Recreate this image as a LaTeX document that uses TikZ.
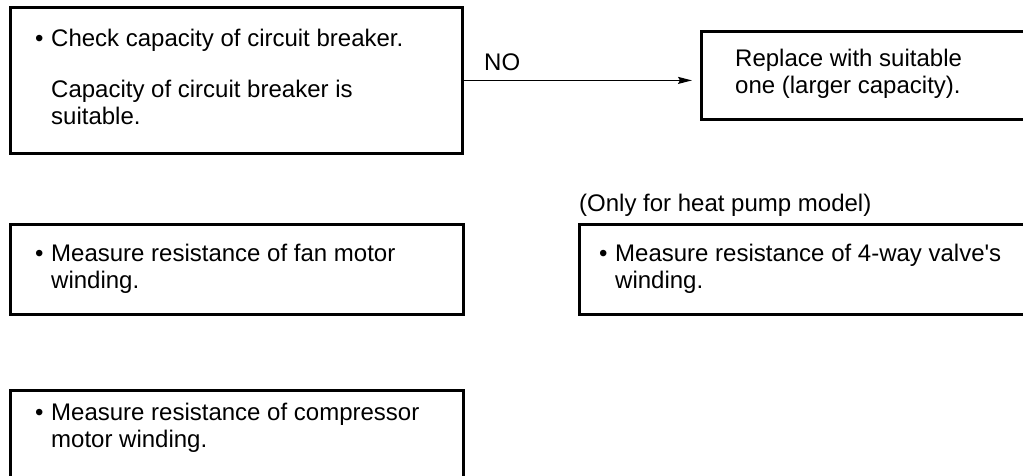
\documentclass[tikz,border=0pt]{standalone}
\usepackage{fontspec}
\setmainfont{Liberation Sans}
\usetikzlibrary{arrows.meta}
\begin{document}
\begin{tikzpicture}[x=1pt,y=-1pt,
  box/.style={draw, line width=2.8pt, inner sep=0pt, anchor=north west},
  txt/.style={anchor=base west, inner sep=0pt, align=left, font=\fontsize{24}{27}\selectfont},
  conn/.style={line width=1.3pt, -{Stealth[length=14pt,width=7pt,inset=2pt]}}
  ]
\useasboundingbox (0,0) rectangle (1023,475);
\clip (0,0) rectangle (1023,475);
% boxes
\node[box, minimum width=452pt, minimum height=146pt] (b1) at (9,6) {};
\node[box, minimum width=345pt, minimum height=88pt] (b2) at (700,30) {};
\node[box, minimum width=453pt, minimum height=90pt] (b3) at (9,223) {};
\node[box, minimum width=465pt, minimum height=90pt] (b4) at (578,223) {};
\node[box, minimum width=453pt, minimum height=110pt] (b5) at (9,389) {};
% texts
\node[txt] (d1) at (35,46) {•};
\node[txt] (t1) at (51,46) {Check capacity of circuit breaker.};
\node[txt] (t1b) at (51,124) {Capacity of circuit breaker is\\suitable.};
\node[txt] (no) at (484,70) {NO};
\node[txt] (t2) at (735,93) {Replace with suitable\\one (larger capacity).};
\node[txt] (d3) at (35,261) {•};
\node[txt] (t3) at (51,288) {Measure resistance of fan motor\\winding.};
\node[txt] (note) at (579,211) {(Only for heat pump model)};
\node[txt] (d4) at (599,261) {•};
\node[txt] (t4) at (615,288) {Measure resistance of 4-way valve\textquotesingle s\\winding.};
\node[txt] (d5) at (35,420) {•};
\node[txt] (t5) at (51,447) {Measure resistance of compressor\\motor winding.};
% connector
\draw[conn, shorten >=8pt] (b1.east) -- (b1.east -| b2.west);
\end{tikzpicture}
\end{document}
